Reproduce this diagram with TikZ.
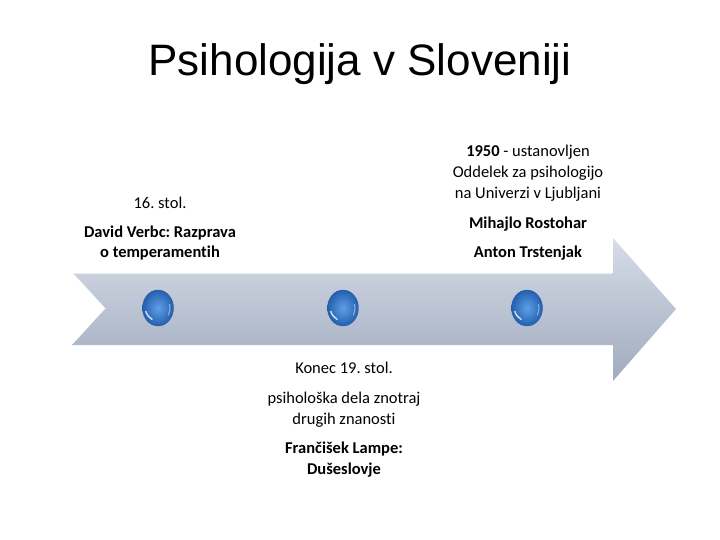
\documentclass[tikz,border=0pt]{standalone}
\usepackage{fontspec}
\setmainfont{Carlito}[Ligatures=NoCommon]
\newfontfamily\titlefont{Liberation Sans}
\usetikzlibrary{shapes.geometric}
\frenchspacing
\begin{document}
\begin{tikzpicture}[x=1pt,y=-1pt,
  txt/.style={anchor=base,inner sep=0pt,font=\fontsize{16.5}{19}\selectfont,text=black},
  btxt/.style={txt,font=\fontsize{16.5}{19}\selectfont\bfseries},
  ball/.style={ellipse,minimum width=31pt,minimum height=36pt,inner sep=0pt,
    inner color={rgb,255:red,95;green,160;blue,230},outer color={rgb,255:red,35;green,95;blue,175},
    draw={rgb,255:red,40;green,90;blue,160},line width=0.4pt},
  glint/.style={white,opacity=0.8,line width=1.4pt,line cap=round}]
\useasboundingbox (0,0) rectangle (720,540);
\fill[white] (0,0) rectangle (720,540);
\node[anchor=base,inner sep=0pt,font=\titlefont\fontsize{44}{48}\selectfont] (title) at (360,76) {Psihologija v Sloveniji};
% arrow
\shade[top color={rgb,255:red,214;green,220;blue,232},bottom color={rgb,255:red,160;green,171;blue,190}]
  (72,273) -- (613,273) -- (613,238) -- (676,309) -- (613,381) -- (613,345) -- (72,345) -- (105,309) -- cycle;
\draw[white,line width=1.2pt] (72,273) -- (105,309);
\draw[white,opacity=0.7,line width=1pt] (74,273.5) -- (612,273.5);
% balls
\foreach \n/\x in {b1/158,b2/343,b3/527}{
  \node[ball] (\n) at (\x,308) {};
  \draw[glint] ([shift={(-6,11.3)}]\n.center) arc[start angle=115,end angle=160,x radius=12,y radius=14];
  \draw[glint,opacity=0.45,line width=1pt] ([shift={(10.4,7)}]\n.center) arc[start angle=30,end angle=-15,x radius=12,y radius=14];
}
% left text
\node[txt] (l1) at (160,208) {16. stol.};
\node[btxt] (l2) at (160,237) {David Verbc: Razprava};
\node[btxt] (l3) at (160,257) {o temperamentih};
% right text
\node[txt] (r1) at (528,157) {\textbf{1950} - ustanovljen};
\node[txt] (r2) at (528,178) {Oddelek za psihologijo};
\node[txt] (r3) at (528,199) {na Univerzi v Ljubljani};
\node[btxt] (r4) at (528,229) {Mihajlo Rostohar};
\node[btxt] (r5) at (528,258) {Anton Trstenjak};
% bottom text
\node[txt] (m1) at (344,373) {Konec 19. stol.};
\node[txt] (m2) at (344,403) {psihološka dela znotraj};
\node[txt] (m3) at (344,424) {drugih znanosti};
\node[btxt] (m4) at (344,453) {Frančišek Lampe:};
\node[btxt] (m5) at (344,474) {Dušeslovje};
\end{tikzpicture}
\end{document}
